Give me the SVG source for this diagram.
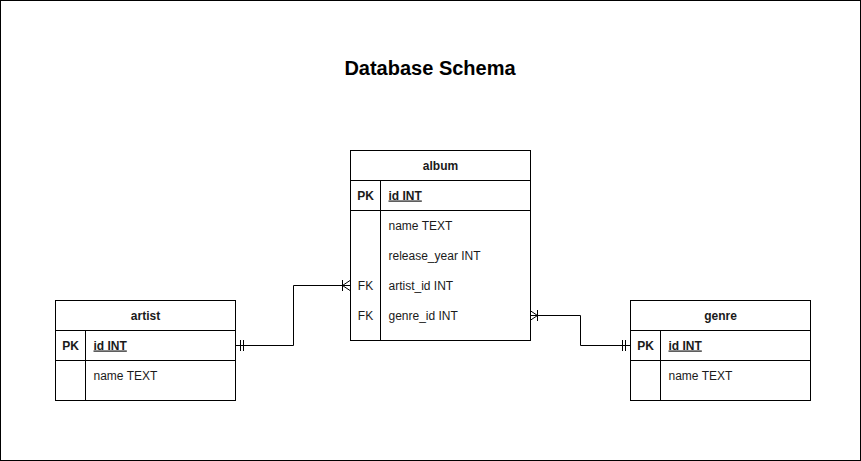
<svg xmlns="http://www.w3.org/2000/svg" width="861" height="461" viewBox="0 0 861 461">
<style>
.box{fill:#fff;stroke:#000;stroke-width:1}
.ln{fill:none;stroke:#000;stroke-width:1}
.t{font-family:"Liberation Sans",Arial,sans-serif;font-size:12px;fill:#1a1a1a}
.h{font-weight:bold;text-anchor:middle}
.k{text-anchor:middle}
.u{text-decoration:underline;font-weight:bold}
.title{font-family:"Liberation Sans",Arial,sans-serif;font-size:20px;font-weight:bold;text-anchor:middle;fill:#000}
</style>
<rect x="0.5" y="0.5" width="860" height="460" fill="#fff" stroke="#000"/>
<text class="title" x="430" y="75">Database Schema</text>
<g id="connectors">
<path class="ln" d="M235.5,345.5 H293.5 V285.5 H350"/>
<path class="ln" d="M240.5,340 V351 M243.5,340 V351"/>
<path class="ln" d="M342.5,280 V291 M350,280.5 L342.5,285.5 L350,290.5"/>
<path class="ln" d="M530,315.5 H580.5 V345.5 H630"/>
<path class="ln" d="M537.5,310 V321 M530,310.5 L537.5,315.5 L530,320.5"/>
<path class="ln" d="M622.5,340 V351 M625.5,340 V351"/>
</g>
<g id="album">
<rect class="box" x="350.5" y="150.5" width="180" height="190"/>
<path class="ln" d="M350.5,180.5 H530.5 M350.5,210.5 H530.5 M380.5,180.5 V340.5"/>
<text class="t h" x="440.5" y="169.5">album</text>
<text class="t k" x="365.5" y="199.5" font-weight="bold">PK</text>
<text class="t u" x="388.5" y="199.5">id INT</text>
<text class="t" x="388.5" y="229.5">name TEXT</text>
<text class="t" x="388.5" y="259.5">release_year INT</text>
<text class="t k" x="365.5" y="289.5">FK</text>
<text class="t" x="388.5" y="289.5">artist_id INT</text>
<text class="t k" x="365.5" y="319.5">FK</text>
<text class="t" x="388.5" y="319.5">genre_id INT</text>
</g>
<g id="artist">
<rect class="box" x="55.5" y="300.5" width="180" height="100"/>
<path class="ln" d="M55.5,330.5 H235.5 M55.5,360.5 H235.5 M85.5,330.5 V400.5"/>
<text class="t h" x="145.5" y="319.5">artist</text>
<text class="t k" x="70.5" y="349.5" font-weight="bold">PK</text>
<text class="t u" x="93.5" y="349.5">id INT</text>
<text class="t" x="93.5" y="379.5">name TEXT</text>
</g>
<g id="genre">
<rect class="box" x="630.5" y="300.5" width="180" height="100"/>
<path class="ln" d="M630.5,330.5 H810.5 M630.5,360.5 H810.5 M660.5,330.5 V400.5"/>
<text class="t h" x="720.5" y="319.5">genre</text>
<text class="t k" x="645.5" y="349.5" font-weight="bold">PK</text>
<text class="t u" x="668.5" y="349.5">id INT</text>
<text class="t" x="668.5" y="379.5">name TEXT</text>
</g>
</svg>
